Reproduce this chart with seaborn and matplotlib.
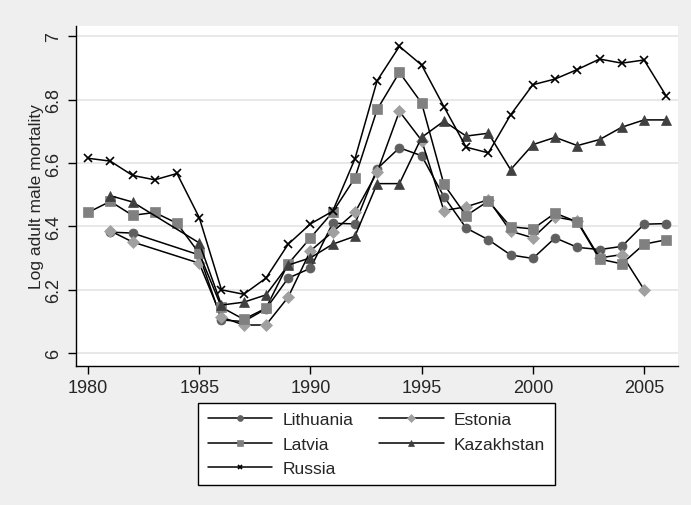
import numpy as np
import pandas as pd
import matplotlib
matplotlib.use('Agg')
import matplotlib.pyplot as plt
import seaborn as sns

nan = np.nan
years = list(range(1980, 2007))

# log adult male mortality
lithuania = [nan, 6.382, 6.379, nan, nan, 6.310, 6.105, 6.100, 6.140, 6.237,
             6.268, 6.410, 6.408, 6.582, 6.648, 6.623, 6.494, 6.395, 6.358, 6.310,
             6.299, 6.364, 6.334, 6.327, 6.337, 6.407, 6.409]
estonia = [nan, 6.386, 6.351, nan, nan, 6.284, 6.114, 6.089, 6.089, 6.177,
           6.323, 6.383, 6.444, 6.571, 6.763, 6.671, 6.450, 6.462, 6.484, 6.385,
           6.364, 6.430, 6.417, 6.301, 6.311, 6.201, nan]
latvia = [6.444, 6.479, 6.435, 6.444, 6.410, 6.315, 6.145, 6.107, 6.142, 6.282,
          6.364, 6.445, 6.553, 6.769, 6.886, 6.789, 6.533, 6.434, 6.480, 6.399,
          6.392, 6.442, 6.414, 6.297, 6.282, 6.344, 6.358]
kazakhstan = [nan, 6.497, 6.477, nan, nan, 6.348, 6.152, 6.161, 6.184, 6.278,
              6.301, 6.344, 6.369, 6.535, 6.535, 6.681, 6.732, 6.685, 6.694, 6.579,
              6.658, 6.681, 6.655, 6.674, 6.713, 6.736, 6.736]
russia = [6.615, 6.606, 6.561, 6.547, 6.567, 6.428, 6.200, 6.186, 6.237, 6.344,
          6.408, 6.448, 6.613, 6.860, 6.968, 6.909, 6.778, 6.650, 6.632, 6.752,
          6.847, 6.865, 6.895, 6.928, 6.915, 6.925, 6.811]

countries = ['Lithuania', 'Estonia', 'Latvia', 'Kazakhstan', 'Russia']
series = [lithuania, estonia, latvia, kazakhstan, russia]
markers = ['o', 'D', 's', '^', 'x']
colors = ['#5f5f5f', '#a0a0a0', '#808080', '#404040', 'black']
msizes = [6.5, 6.0, 6.5, 7.0, 5.5]

sns.set_style('white')
plt.rcParams['font.family'] = ['Liberation Sans', 'DejaVu Sans']

fig = plt.figure(figsize=(6.91, 5.06), dpi=100, facecolor='#efefef')
ax = fig.add_axes([0.110, 0.2755, 0.871, 0.671])
ax.set_facecolor('white')

handles = {}
for name, vals, mk, col, ms in zip(countries, series, markers, colors, msizes):
    d = pd.DataFrame({'year': years, 'value': vals}).dropna()
    sns.lineplot(data=d, x='year', y='value', ax=ax, color='black', lw=1.1,
                 marker=mk, markersize=ms, markerfacecolor=col,
                 markeredgecolor=col, markeredgewidth=1.2 if mk == 'x' else 0.5,
                 label=name, legend=False)
    handles[name] = ax.get_lines()[-1]

ax.set_xlim(1979.46, 2006.52)
ax.set_ylim(5.961, 7.032)
ax.set_xticks(range(1980, 2006, 5))
yt = np.round(np.arange(6, 7.01, 0.2), 1)
ax.set_yticks(yt)
ax.set_yticklabels(['%g' % v for v in yt])
for lab in ax.get_yticklabels():
    lab.set_rotation(90)
    lab.set_va('center')

ax.tick_params(axis='both', labelsize=13, length=6, width=1, color='black',
               direction='out', left=True, bottom=True, pad=4)
ax.grid(axis='y', color='#e6e6e6', lw=1.3)
ax.grid(axis='x', visible=False)
ax.set_axisbelow(True)
for s in ['top', 'right']:
    ax.spines[s].set_visible(False)
for s in ['left', 'bottom']:
    ax.spines[s].set_color('black')
    ax.spines[s].set_linewidth(1)

ax.set_xlabel('')
ax.set_ylabel('Log adult male mortality', fontsize=12.5, labelpad=1)

order = ['Lithuania', 'Latvia', 'Russia', 'Estonia', 'Kazakhstan']
leg = ax.legend([handles[n] for n in order], order, ncol=2, loc='center',
                bbox_to_anchor=(376.5 / 691, 1 - 445 / 506),
                bbox_transform=fig.transFigure, fontsize=12.5,
                handlelength=3.7, handletextpad=0.6, columnspacing=1.5,
                labelspacing=0.52, markerscale=0.65, borderpad=0.55,
                frameon=True, fancybox=False, framealpha=1)
leg.get_frame().set_edgecolor('black')
leg.get_frame().set_linewidth(1)

fig.savefig('out.png', dpi=100, facecolor=fig.get_facecolor())
